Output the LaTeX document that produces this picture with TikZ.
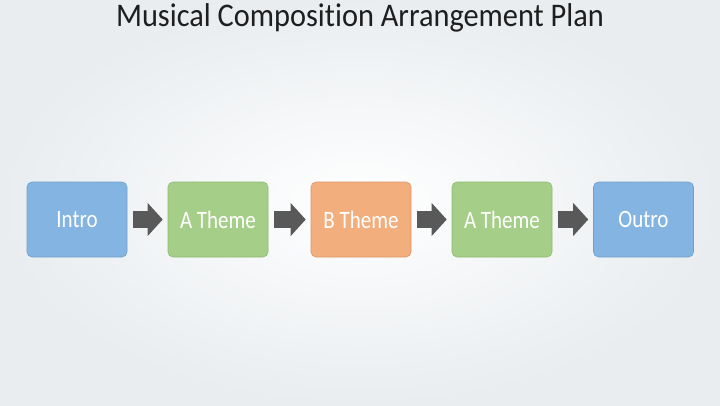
\documentclass[tikz,border=0pt]{standalone}
\usepackage{fontspec}
\setmainfont{Carlito}
\newfontfamily\titlefont[FakeStretch=0.92, RawFeature={-liga;-clig;-calt}]{Carlito}
\newfontfamily\partfont[FakeStretch=0.84, RawFeature={-liga;-clig;-calt}]{Carlito}
\usetikzlibrary{arrows.meta}

\definecolor{introblue}{HTML}{84B5E2}
\definecolor{introline}{HTML}{6E9FCE}
\definecolor{themegreen}{HTML}{A5CF88}
\definecolor{themeline}{HTML}{8DBA70}
\definecolor{themeorange}{HTML}{F3AE7E}
\definecolor{orangeline}{HTML}{DD9767}
\definecolor{arrowgray}{HTML}{595959}
\definecolor{titlegray}{HTML}{1E1E1E}
\definecolor{edgegray}{HTML}{E9EDF0}

\begin{document}
\begin{tikzpicture}[x=1pt, y=1pt,
    part/.style={rounded corners=5pt, line width=0.6pt, minimum width=100pt, minimum height=75pt, inner sep=0pt, text=white, font=\partfont\fontsize{25}{25}\selectfont},
    flow/.style={arrowgray, line width=17pt, -{Triangle[length=15pt, width=33pt, line width=0pt]}}]

    \useasboundingbox (0,0) rectangle (720,405);
    \shade[inner color=white, outer color=edgegray] (0,0) rectangle (720,405);

    \node[font=\titlefont\fontsize{33}{33}\selectfont, text=titlegray, anchor=base] (title) at (360,378) {Musical Composition Arrangement Plan};

    \node[part, fill=introblue, draw=introline] (intro) at (77,185.5) {Intro};
    \node[part, fill=themegreen, draw=themeline] (atheme) at (218,185.5) {A Theme};
    \node[part, fill=themeorange, draw=orangeline] (btheme) at (361,185.5) {B Theme};
    \node[part, fill=themegreen, draw=themeline] (areturn) at (502,185.5) {A Theme};
    \node[part, fill=introblue, draw=introline] (outro) at (643.5,185.5) {Outro};

    \draw[flow] ([xshift=6pt]intro.east) -- ([xshift=-5pt]atheme.west);
    \draw[flow] ([xshift=6pt]atheme.east) -- ([xshift=-5pt]btheme.west);
    \draw[flow] ([xshift=6pt]btheme.east) -- ([xshift=-5pt]areturn.west);
    \draw[flow] ([xshift=6pt]areturn.east) -- ([xshift=-5pt]outro.west);

\end{tikzpicture}
\end{document}
